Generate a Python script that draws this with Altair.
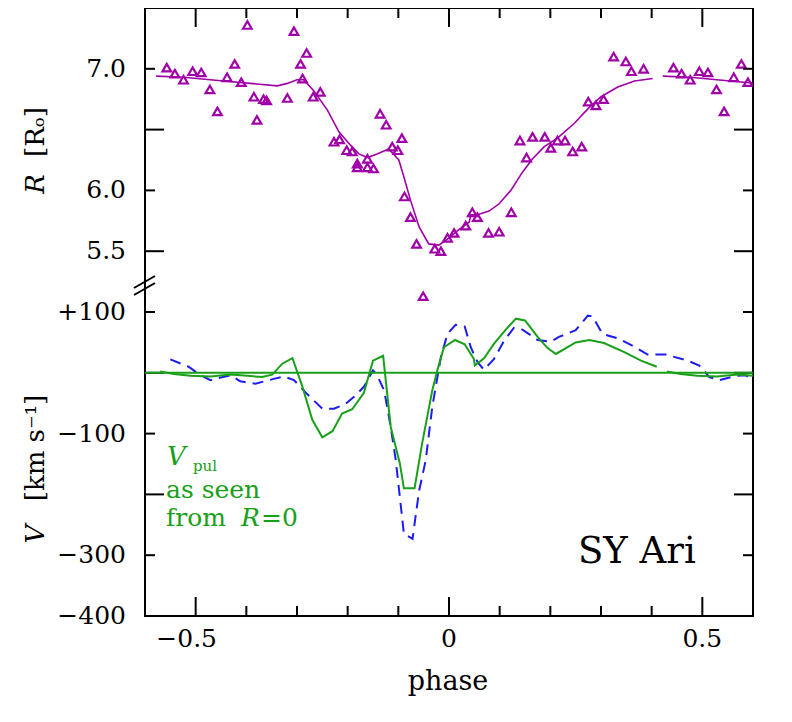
import altair as alt
import pandas as pd

W, H = 608, 608
PURPLE = "#a000a8"
GREEN = "#18a018"
BLUE = "#1c1cf0"
FONT = "DejaVu Serif"
FS = 25

# ---- radius data (one cycle; repeated at phase+1) ----
r_phase = [-0.557, -0.541, -0.524, -0.506, -0.489, -0.472, -0.457, -0.438, -0.423, -0.410,
           -0.398, -0.385, -0.379, -0.366, -0.360, -0.319, -0.306, -0.293, -0.289, -0.281,
           -0.268, -0.254, -0.227, -0.216, -0.202, -0.191, -0.181, -0.181, -0.161, -0.161,
           -0.149, -0.136, -0.124, -0.112, -0.101, -0.093, -0.088, -0.076, -0.064, -0.051,
           -0.028, -0.016, -0.003, 0.010, 0.033, 0.046, 0.056, 0.078, 0.099, 0.123,
           0.140, 0.153, 0.165, 0.189, 0.201, 0.214, 0.229, 0.244, 0.262, 0.275,
           0.290, 0.305, 0.325, 0.349, 0.360, 0.384]
r_value = [7.01, 6.96, 6.91, 6.98, 6.97, 6.83, 6.65, 6.93, 7.04, 6.89,
           7.36, 6.77, 6.58, 6.75, 6.74, 6.76, 7.31, 7.04, 6.92, 7.13,
           6.77, 6.81, 6.40, 6.42, 6.33, 6.32, 6.22, 6.19, 6.26, 6.19,
           6.18, 6.63, 6.54, 6.36, 6.33, 6.43, 5.95, 5.78, 5.56, 5.13,
           5.52, 5.50, 5.61, 5.65, 5.71, 5.82, 5.78, 5.65, 5.66, 5.82,
           6.41, 6.27, 6.44, 6.44, 6.35, 6.41, 6.41, 6.32, 6.36, 6.73,
           6.70, 6.75, 7.10, 7.06, 6.98, 7.00]

fit_phase = [-0.578, -0.524, -0.445, -0.392, -0.339, -0.319, -0.300, -0.287, -0.267, -0.240,
             -0.217, -0.194, -0.178, -0.161, -0.142, -0.119, -0.099, -0.089, -0.076, -0.059,
             -0.040, -0.020, -0.003, 0.017, 0.040, 0.043, 0.056, 0.079, 0.099, 0.122,
             0.145, 0.165, 0.188, 0.214, 0.247, 0.274, 0.300, 0.333, 0.366, 0.402]
fit_R = [6.94, 6.93, 6.90, 6.88, 6.86, 6.88, 6.91, 6.91, 6.82, 6.66,
         6.48, 6.37, 6.30, 6.27, 6.30, 6.34, 6.25, 6.11, 5.92, 5.70,
         5.56, 5.55, 5.60, 5.67, 5.74, 5.80, 5.80, 5.83, 5.89, 6.00,
         6.15, 6.26, 6.36, 6.43, 6.55, 6.67, 6.77, 6.85, 6.90, 6.92]

# ---- velocity data ----
vpul_phase = [-0.570, -0.543, -0.510, -0.471, -0.431, -0.398, -0.369, -0.349, -0.329, -0.309,
              -0.290, -0.270, -0.250, -0.230, -0.211, -0.191, -0.168, -0.150, -0.130, -0.115,
              -0.097, -0.089, -0.068, -0.053, -0.033, -0.023, -0.010, 0.012, 0.031, 0.049,
              0.051, 0.069, 0.089, 0.112, 0.132, 0.150, 0.175, 0.194, 0.211, 0.250,
              0.277, 0.306, 0.346, 0.379, 0.410]
vpul_V = [2, -2, -5, -6, -3, -5, -7, -3, 15, 24,
          -21, -77, -106, -96, -67, -60, -33, 20, 28, -89,
          -149, -190, -190, -116, -29, 4, 42, 54, 47, 23,
          12, 24, 48, 71, 89, 86, 59, 41, 31, 50,
          54, 49, 34, 20, 10]

vobs_phase = [-0.550, -0.514, -0.494, -0.471, -0.431, -0.412, -0.382, -0.346, -0.326, -0.306,
              -0.280, -0.250, -0.227, -0.204, -0.188, -0.168, -0.150, -0.142, -0.128, -0.115,
              -0.105, -0.089, -0.072, -0.059, -0.046, -0.033, -0.016, -0.003, 0.013, 0.031,
              0.043, 0.056, 0.069, 0.089, 0.109, 0.128, 0.145, 0.175, 0.201, 0.217,
              0.250, 0.274, 0.283, 0.303, 0.336, 0.372, 0.392, 0.428, 0.471, 0.494,
              0.514, 0.534, 0.567, 0.586, 0.603]
vobs_V = [22, 10, -2, -12, -4, -14, -18, -10, -6, -12,
          -35, -59, -59, -51, -40, -23, 4, -4, -29, -89,
          -144, -265, -273, -194, -144, -56, 26, 64, 79, 76,
          42, 18, 5, 23, 53, 74, 71, 54, 51, 59,
          70, 94, 93, 64, 56, 40, 30, 30, 20, 12,
          -7, -12, -5, -4, -15]

# ---- ticks and labels ----
x_major = [-0.5, 0.0, 0.5]
x_minor = [-0.4, -0.3, -0.2, -0.1, 0.1, 0.2, 0.3, 0.4]
x_label_vals = [0.0, 0.5]
x_label_txt = ["0", "0.5"]
r_major = [5.5, 6.5]
r_minor = [6.0, 7.0]
r_label_vals = [5.5, 6.0, 7.0]
r_label_txt = ["5.5", "6.0", "7.0"]
v_major = [0, -200]
v_minor = [100, -100, -300]
v_label_vals = [100, -100, -300, -400]
v_label_txt = ["+100", "\u2212100", "\u2212300", "\u2212400"]

assert len(r_phase) == len(r_value)
assert len(fit_phase) == len(fit_R)
assert len(vpul_phase) == len(vpul_V)
assert len(vobs_phase) == len(vobs_V)

# periodic repetition (phase + 1)
pts = pd.DataFrame({"phase": r_phase, "R": r_value})
pts_rep = pts.assign(phase=pts.phase + 1)
pts_all = pd.concat([pts, pts_rep[pts_rep.phase <= 0.6]])

fit = pd.DataFrame({"phase": fit_phase, "R": fit_R, "piece": 0})
fit_all = pd.concat([fit, fit.assign(phase=fit.phase + 1, piece=1)])

vpul = pd.DataFrame({"phase": vpul_phase, "V": vpul_V, "piece": 0})
vpul_all = pd.concat([vpul, vpul.assign(phase=vpul.phase + 1, piece=1)])

vobs = pd.DataFrame({"phase": vobs_phase, "V": vobs_V})

one = pd.DataFrame({"a": [0]})

xs = alt.Scale(domain=[-0.6, 0.6], nice=False, zero=False)
rs = alt.Scale(domain=[2.5, 7.5], nice=False, zero=False)
vs = alt.Scale(domain=[-400, 600], nice=False, zero=False)


def X(f="phase"):
    return alt.X(f"{f}:Q", scale=xs, axis=None)


def YR(f="R"):
    return alt.Y(f"{f}:Q", scale=rs, axis=None)


def YV(f="V"):
    return alt.Y(f"{f}:Q", scale=vs, axis=None)


MAJ, MIN = 19, 10


def yticks(vals, field, yenc, length):
    df = pd.DataFrame({field: vals})
    left = alt.Chart(df).mark_rule(color="black", strokeWidth=2).encode(
        y=yenc(field), x=alt.value(0), x2=alt.value(length))
    right = alt.Chart(df).mark_rule(color="black", strokeWidth=2).encode(
        y=yenc(field), x=alt.value(W - length), x2=alt.value(W))
    return [left, right]


# ---- R layers ----
r_line = alt.Chart(fit_all).mark_line(color=PURPLE, strokeWidth=1.6, clip=True).encode(
    x=X(), y=YR(), detail="piece:N")
r_pts = alt.Chart(pts_all).mark_point(shape="triangle-up", filled=False, size=75, opacity=1,
                                      strokeWidth=2.2, color=PURPLE, clip=True).encode(
    x=X(), y=YR())
r_lab = alt.Chart(pd.DataFrame({"R": r_label_vals, "t": r_label_txt})).mark_text(
    align="right", baseline="middle", font=FONT, fontSize=FS, color="black").encode(
    x=alt.value(-19), y=YR(), text="t:N")
R_layer = alt.layer(r_line, r_pts, *yticks(r_major, "R", YR, MAJ),
                    *yticks(r_minor, "R", YR, MIN), r_lab)

# ---- V layers ----
v_obs = alt.Chart(vobs).mark_line(color=BLUE, strokeWidth=2, strokeDash=[11, 7], clip=True).encode(
    x=X(), y=YV())
v_pul = alt.Chart(vpul_all).mark_line(color=GREEN, strokeWidth=2, clip=True).encode(
    x=X(), y=YV(), detail="piece:N")
v_zero = alt.Chart(pd.DataFrame({"V": [0]})).mark_rule(color=GREEN, strokeWidth=2).encode(
    y=YV(), x=alt.value(0), x2=alt.value(W))
v_lab = alt.Chart(pd.DataFrame({"V": v_label_vals, "t": v_label_txt})).mark_text(
    align="right", baseline="middle", font=FONT, fontSize=FS, color="black").encode(
    x=alt.value(-19), y=YV(), text="t:N")
V_layer = alt.layer(*yticks(v_major, "V", YV, MAJ), *yticks(v_minor, "V", YV, MIN),
                    v_obs, v_pul, v_zero, v_lab)

# ---- x ticks and labels ----
deco = []
for vals, ln in ((x_major, MAJ), (x_minor, MIN)):
    df = pd.DataFrame({"phase": vals})
    deco.append(alt.Chart(df).mark_rule(color="black", strokeWidth=2).encode(
        x=X(), y=alt.value(H - ln), y2=alt.value(H)))
    deco.append(alt.Chart(df).mark_rule(color="black", strokeWidth=2).encode(
        x=X(), y=alt.value(0), y2=alt.value(ln)))

deco.append(alt.Chart(pd.DataFrame({"phase": x_label_vals, "t": x_label_txt})).mark_text(
    align="center", baseline="alphabetic", font=FONT, fontSize=FS, color="black").encode(
    x=X(), y=alt.value(639), text="t:N"))
deco.append(alt.Chart(pd.DataFrame({"phase": [-0.5], "t": ["\u22120.5"]})).mark_text(
    align="center", baseline="alphabetic", font=FONT, fontSize=FS, color="black", dx=-9).encode(
    x=X(), y=alt.value(639), text="t:N"))


def txt(s, x, y, size=FS, color="black", style="normal", angle=0, align="left",
        baseline="alphabetic"):
    return alt.Chart(one).mark_text(font=FONT, fontSize=size, color=color, fontStyle=style,
                                    angle=angle, align=align, baseline=baseline).encode(
        x=alt.value(x), y=alt.value(y), text=alt.value(s))


deco += [
    txt("phase", 303, 682, size=27, align="center"),
    txt("R", -109, 176, size=26, style="italic", angle=270, align="center", baseline="middle"),
    txt("[R\u2092]", -109, 124, size=26, angle=270, align="center", baseline="middle"),
    txt("V", -109, 526, size=26, style="italic", angle=270, align="center", baseline="middle"),
    txt("[km s\u207b\u00b9]", -109, 440, size=26, angle=270, align="center", baseline="middle"),
    txt("SY Ari", 433, 555, size=37),
    txt("V", 22, 457, size=26, color=GREEN, style="italic"),
    txt("pul", 48, 463, size=15, color=GREEN),
    txt("as seen", 21, 490, size=25, color=GREEN),
    txt("from", 21, 518, size=25, color=GREEN),
    txt("R", 96, 518, size=25, color=GREEN, style="italic"),
    txt("=0", 116, 518, size=25, color=GREEN),
]

# axis break marks
for y0 in (280, 273):
    deco.append(alt.Chart(one).mark_rule(color="black", strokeWidth=2).encode(
        x=alt.value(-11), y=alt.value(y0 + 7), x2=alt.value(10), y2=alt.value(y0 - 5)))

chart = alt.layer(R_layer, V_layer, *deco).resolve_scale(y="independent").properties(
    width=W, height=H, autosize="none",
    padding={"left": 137, "top": 0, "right": 30, "bottom": 106},
).configure_view(stroke="black", strokeWidth=2)

chart.save("out.html", embed_options={"renderer": "svg", "actions": False})
